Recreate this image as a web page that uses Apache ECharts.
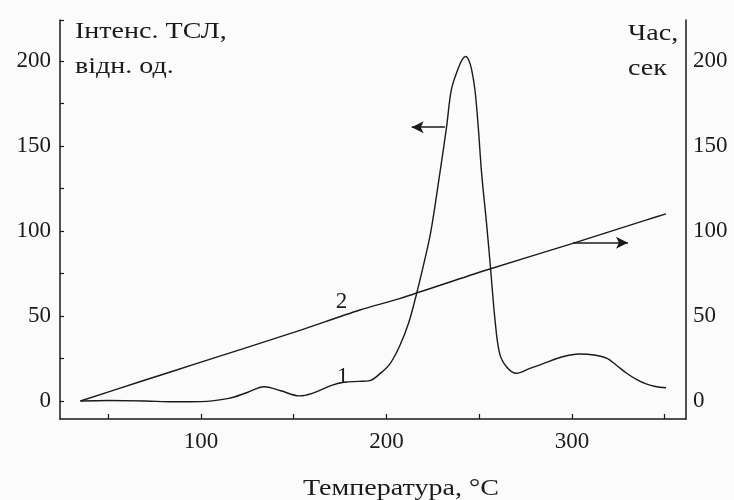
<!DOCTYPE html>
<html>
<head>
<meta charset="utf-8">
<script src="https://cdn.jsdelivr.net/npm/echarts@6/dist/echarts.min.js"></script>
<style>
html,body{margin:0;padding:0;background:#fbfbfb;}
#chart{width:734px;height:500px;}
</style>
</head>
<body>
<div id="chart"></div>
<script>
// Curve 1: TSL intensity (left axis), [temperature, value]
const tempIntensity = [35,50,70,85,100,115,125,134,143,153,160,170,177,185,191,197,202,207,212,216,220,224,228.8,232.4,235,238.5,241,242.8,244.5,245.9,247.7,249.5,251.3,254,256.2,258.5,261,264.8,270,277,284.5,295,304,312,319,324,329.5,335,340,345,350.7];
const intensity = [0,0.3,0,-0.5,-0.4,1.5,5,8.4,6,3,4.5,9,11,11.5,12,16.5,22,32,46,62,80,100,134,161,183,195,201,202.5,200,195,183,161,134,104,77,48,28,20,16.3,19,22,26,27.6,27,25,21,16.3,12.5,10,8.5,7.8];
// Curve 2: time (right axis)
const tempTime = [35,67,100,150,185.7,207,254,300.5,340.3,350.7];
const timeSec = [0,11.3,22.8,40.3,53.5,60.2,77,92.7,106.5,110];
// Axis ticks / labels
const xTickValues = [50,100,150,200,250,300,350];
const xLabelValues = [100,200,300];
const yTickValues = [0,25,50,75,100,125,150,175,200];
const yLabelValues = [0,50,100,150,200];
// Text
const leftAxisName = ['Інтенс. ТСЛ,', 'відн. од.'];
const rightAxisName = ['Час,', 'сек'];
const xAxisName = 'Температура, °C';
// Curve labels and arrows (data coordinates)
const curveLabels = [{name:'1', t:176.5, v:14.3}, {name:'2', t:175.8, v:58.4}];
const arrowLeft = [[231.5,161],[213.6,161]];
const arrowRight = [[300.5,93],[330.2,93]];

const FONT = 'Liberation Serif';
const FS = 23;
const INK = '#1a1a1a';
const SX = 1.22;
const zip = (a,b)=>a.map((x,i)=>[x,b[i]]);
const txt = (s,x,y)=>({type:'text', x:x, y:y, scaleX:SX, silent:true,
  style:{text:s, font:FS+'px "'+FONT+'"', fill:INK, textAlign:'left', textVerticalAlign:'top'}});

const chart = echarts.init(document.getElementById('chart'));
chart.setOption({
  backgroundColor:'#fbfbfb',
  animation:false,
  textStyle:{fontFamily:FONT,color:INK},
  graphic:[
    txt(leftAxisName[0],75,20),
    txt(leftAxisName[1],75,55),
    txt(rightAxisName[0],628,22),
    txt(rightAxisName[1],628,57),
    txt(xAxisName,303,477)
  ],
  grid:{left:60,right:48,top:20,bottom:81},
  xAxis:{
    type:'value', min:24, max:361.5,
    axisLine:{onZero:false,lineStyle:{color:INK,width:1.5}},
    axisTick:{inside:true,length:5,customValues:xTickValues,lineStyle:{color:INK,width:1.2}},
    axisLabel:{customValues:xLabelValues,margin:11,fontSize:FS,fontFamily:FONT,color:INK},
    splitLine:{show:false}
  },
  yAxis:[
    {
      type:'value', min:-10.6, max:224, position:'left',
      axisLine:{show:true,onZero:false,lineStyle:{color:INK,width:1.5}},
      axisTick:{show:true,inside:true,length:4,customValues:yTickValues.concat([224]),lineStyle:{color:INK,width:1.2}},
      axisLabel:{customValues:yLabelValues,margin:9,fontSize:FS,fontFamily:FONT,color:INK},
      splitLine:{show:false}
    },
    {
      type:'value', min:-10.6, max:224, position:'right',
      axisLine:{show:true,onZero:false,lineStyle:{color:INK,width:1.5}},
      axisTick:{show:false},
      axisLabel:{customValues:yLabelValues,margin:7,fontSize:FS,fontFamily:FONT,color:INK},
      splitLine:{show:false}
    }
  ],
  series:[
    {
      type:'line', yAxisIndex:0, data:zip(tempIntensity,intensity),
      smooth:0.35, showSymbol:false,
      lineStyle:{color:INK,width:1.4},
      markPoint:{
        symbol:'circle', symbolSize:1, itemStyle:{color:'rgba(0,0,0,0)'},
        label:{show:true,position:'inside',fontSize:FS,fontFamily:FONT,color:INK,formatter:p=>p.name},
        data:curveLabels.map(c=>({name:c.name,coord:[c.t,c.v]}))
      },
      markLine:{
        silent:true, symbol:['none','arrow'], symbolSize:[9,12],
        label:{show:false},
        lineStyle:{color:INK,width:1.6,type:'solid'},
        data:[[{coord:arrowLeft[0]},{coord:arrowLeft[1]}]]
      }
    },
    {
      type:'line', yAxisIndex:1, data:zip(tempTime,timeSec),
      smooth:0.3, showSymbol:false,
      lineStyle:{color:INK,width:1.4},
      markLine:{
        silent:true, symbol:['none','arrow'], symbolSize:[9,12],
        label:{show:false},
        lineStyle:{color:INK,width:1.6,type:'solid'},
        data:[[{coord:arrowRight[0]},{coord:arrowRight[1]}]]
      }
    }
  ]
});
</script>
</body>
</html>
